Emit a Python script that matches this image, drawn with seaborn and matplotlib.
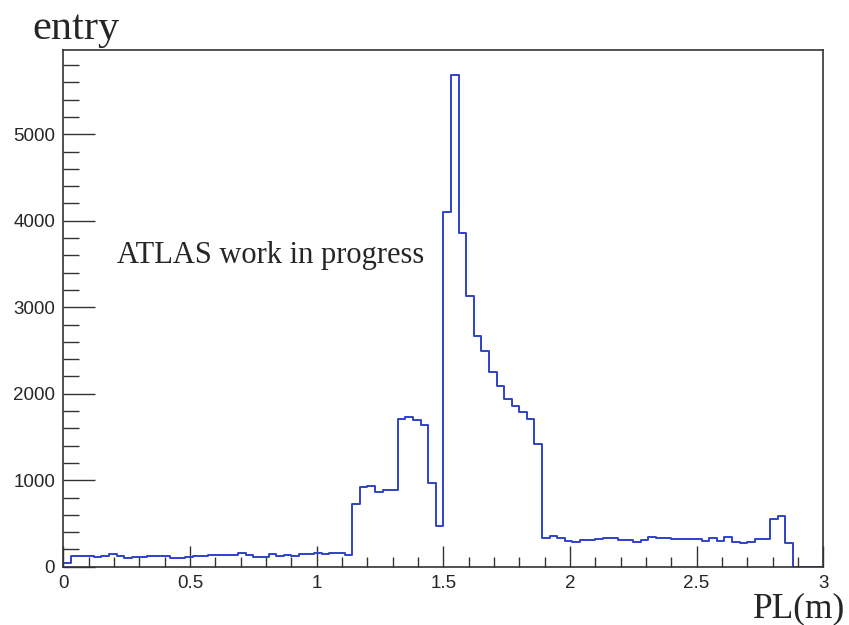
import numpy as np
import pandas as pd
import matplotlib
matplotlib.use("Agg")
import matplotlib.pyplot as plt
from matplotlib.ticker import MultipleLocator
import seaborn as sns

# Histogram: 100 bins of width 0.03 from 0 to 3
n_bins = 100
x_range = (0.0, 3.0)
counts = [
    38, 123, 123, 123, 108, 123, 146, 123, 97, 115,
    115, 125, 125, 125, 106, 105, 110, 125, 128, 135,
    135, 135, 135, 154, 133, 108, 108, 150, 125, 135,
    127, 146, 146, 154, 146, 162, 154, 135, 723, 923,
    930, 858, 885, 885, 1704, 1730, 1692, 1634, 962, 469,
    4106, 5683, 3853, 3136, 2665, 2492, 2246, 2084, 1938, 1857,
    1788, 1711, 1419, 327, 354, 327, 300, 289, 303, 303,
    319, 331, 327, 304, 310, 289, 312, 342, 327, 327,
    319, 319, 319, 319, 296, 327, 296, 346, 289, 277,
    290, 316, 316, 550, 588, 277, 0, 0, 0, 0,
]
bin_width = (x_range[1] - x_range[0]) / n_bins
bin_centers = x_range[0] + bin_width * (np.arange(n_bins) + 0.5)

x_label = "PL(m)"
y_label = "entry"
annotation = "ATLAS work in progress"
x_ticks = [0, 0.5, 1, 1.5, 2, 2.5, 3]
x_tick_labels = ["0", "0.5", "1", "1.5", "2", "2.5", "3"]
y_ticks = [0, 1000, 2000, 3000, 4000, 5000]
y_tick_labels = ["0", "1000", "2000", "3000", "4000", "5000"]

df = pd.DataFrame({"PL": bin_centers, "n": counts})

sns.set_style("ticks")
plt.rcParams["font.family"] = ["Liberation Sans", "DejaVu Sans"]

fig = plt.figure(figsize=(8.49, 6.25), dpi=100)
ax = fig.add_axes([0.0746, 0.0933, 0.8951, 0.8267])

sns.histplot(data=df, x="PL", weights="n", bins=n_bins, binrange=x_range,
             element="step", fill=False, color="#2f42c8", linewidth=1.4, ax=ax)

ax.set_xlim(0, 3)
ax.set_ylim(0, 5975)

ax.set_xticks(x_ticks)
ax.set_xticklabels(x_tick_labels)
ax.set_yticks(y_ticks)
ax.set_yticklabels(y_tick_labels)
ax.xaxis.set_minor_locator(MultipleLocator(0.1))
ax.yaxis.set_minor_locator(MultipleLocator(200))

ax.tick_params(axis="x", which="major", direction="in", length=15, width=1.0,
               color="#333333", labelsize=13.5, pad=6, top=False)
ax.tick_params(axis="x", which="minor", direction="in", length=7.5, width=1.0,
               color="#333333", top=False)
ax.tick_params(axis="y", which="major", direction="in", length=23, width=1.0,
               color="#333333", labelsize=13.5, pad=6, right=False)
ax.tick_params(axis="y", which="minor", direction="in", length=11.5, width=1.0,
               color="#333333", right=False)

for s in ax.spines.values():
    s.set_visible(True)
    s.set_color("#333333")
    s.set_linewidth(1.2)

ax.set_xlabel("")
ax.set_ylabel("")

fig.text(0.0377, 0.938, y_label, fontsize=30.5, family="Liberation Serif",
         ha="left", va="baseline")
fig.text(0.996, 0.013, x_label, fontsize=25.5, family="Liberation Serif",
         ha="right", va="baseline")

ax.text(0.212, 3514, annotation, fontsize=22, family="Liberation Serif",
        ha="left", va="baseline")

fig.savefig("out.png", dpi=100)
